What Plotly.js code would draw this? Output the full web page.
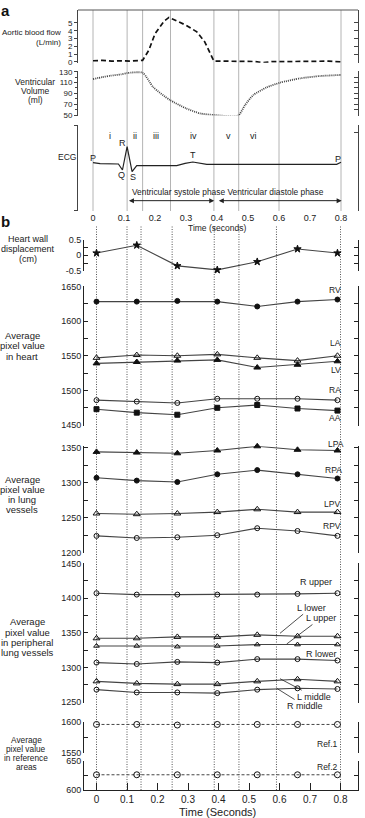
<!DOCTYPE html>
<html><head><meta charset="utf-8">
<script src="https://cdn.plot.ly/plotly-3.0.1.min.js"></script>
<style>html,body{margin:0;padding:0;background:#fff;}#chart{width:365px;height:818px;}</style>
</head><body><div id="chart"></div>
<script>
// ---------- Panel a data ----------
const aorticT = [0, 0.03, 0.06, 0.09, 0.12, 0.16, 0.18, 0.2, 0.23, 0.245, 0.3, 0.335, 0.36, 0.39, 0.42, 0.47, 0.52, 0.55, 0.58, 0.65, 0.72, 0.76, 0.8];
const aorticFlow = [0.15, 0.2, 0.1, 0.15, 0.1, 0.2, 1.5, 3.6, 5.25, 5.7, 4.7, 3.85, 2.6, 0.1, 0.1, 0.05, 0.05, -0.1, 0.05, 0.05, 0.05, 0.1, 0.0];
const volT = [0, 0.03, 0.056, 0.09, 0.11, 0.16, 0.195, 0.248, 0.3, 0.345, 0.39, 0.468, 0.49, 0.517, 0.56, 0.603, 0.668, 0.732, 0.8];
const volume = [116.5, 120, 122.5, 125, 127.5, 128, 101, 77.7, 62.3, 53, 50, 48.8, 68, 86.9, 101, 109.7, 117.7, 122, 124];
const ecgT = [0, 0.023, 0.082, 0.095, 0.11, 0.126, 0.141, 0.27, 0.297, 0.322, 0.367, 0.786, 0.8];
const ecg = [0.9, 0.6, 0.5, -1.3, 5.7, -1.8, 0, 0, 0.7, 1.1, 0.4, 0.4, 1.0];
const phaseA = [0, 0.11, 0.16, 0.25, 0.39, 0.47, 0.6, 0.8];
const phaseNames = ['i', 'ii', 'iii', 'iv', 'v', 'vi'];
const phaseMid = [0.055, 0.136, 0.203, 0.324, 0.437, 0.517];
const timeTicks = [0, 0.1, 0.2, 0.3, 0.4, 0.5, 0.6, 0.7, 0.8];
const timeTickText = ['0', '0.1', '0.2', '0.3', '0.4', '0.5', '0.6', '0.7', '0.8'];

// ---------- Panel b data ----------
const sampleT = [0, 0.132, 0.265, 0.396, 0.527, 0.659, 0.79];
const phaseB = [0, 0.1, 0.146, 0.248, 0.386, 0.467, 0.59, 0.8];
const wallDisp = [0.07, 0.32, -0.34, -0.47, -0.21, 0.2, 0.07];
const RV = [1628, 1628, 1629, 1628, 1621, 1628, 1631];
const LA = [1547, 1551, 1550, 1552, 1547, 1543, 1550];
const LV = [1539, 1541, 1543, 1544, 1533, 1537, 1542];
const RA = [1486, 1484, 1482, 1488, 1488, 1488, 1486];
const AA = [1473, 1468, 1465, 1475, 1479, 1474, 1471];
const LPA = [1344, 1343, 1342, 1346, 1352, 1347, 1346];
const RPA = [1307, 1303, 1301, 1312, 1318, 1312, 1306];
const LPV = [1256, 1255, 1256, 1258, 1262, 1258, 1258];
const RPV = [1224, 1221, 1222, 1225, 1235, 1231, 1224];
const Rupper = [1407, 1405, 1405, 1405, 1405, 1406, 1407];
const Llower = [1342, 1342, 1344, 1344, 1347, 1345, 1345];
const Lupper = [1331, 1331, 1330, 1331, 1333, 1333, 1333];
const Rlower = [1307, 1305, 1308, 1307, 1312, 1312, 1310];
const Lmiddle = [1280, 1277, 1276, 1276, 1280, 1283, 1280];
const Rmiddle = [1268, 1264, 1264, 1263, 1268, 1270, 1269];
const Ref1 = [1596, 1596, 1595, 1596, 1596, 1596, 1596];
const Ref2 = [626, 626, 626, 626, 626, 626, 626];

// ---------- helpers ----------
const W = 365, H = 818;
const fx = p => p / W;
const fy = p => 1 - p / H;
const FN = 'Liberation Sans, Arial, sans-serif';
const TXT = '#222';
const F = s => ({family: FN, size: s, color: TXT});
function lab(s, xp, yp, size, o) {
  return Object.assign({text: s, xref: 'paper', yref: 'paper', x: fx(xp), y: fy(yp), showarrow: false,
    xanchor: 'center', yanchor: 'middle', borderpad: 0, font: F(size)}, o || {});
}
const LC = '#444';
function ser(y, ax, sym, size, extra) {
  return Object.assign({type: 'scatter', mode: 'lines+markers', x: sampleT, y: y, xaxis: 'x2', yaxis: ax,
    line: {color: LC, width: 1.1}, marker: {symbol: sym, size: size || 5, color: '#111', line: {color: '#111', width: 1}},
    cliponaxis: false, showlegend: false, hoverinfo: 'skip'}, extra || {});
}

const traces = [
  {type: 'scatter', mode: 'lines', x: aorticT, y: aorticFlow, xaxis: 'x', yaxis: 'y', line: {color: '#111', width: 1.7, dash: '5px,3px'}, showlegend: false, hoverinfo: 'skip'},
  {type: 'scatter', mode: 'lines', x: volT, y: volume, xaxis: 'x', yaxis: 'y2', line: {color: '#444', width: 1.8, dash: '1px,1px', shape: 'spline', smoothing: 0.6}, showlegend: false, hoverinfo: 'skip'},
  {type: 'scatter', mode: 'lines', x: ecgT, y: ecg, xaxis: 'x', yaxis: 'y3', line: {color: '#222', width: 1.2}, showlegend: false, hoverinfo: 'skip'},
  {type: 'scatter', mode: 'lines', x: [null], y: [null], xaxis: 'x', yaxis: 'y4', showlegend: false, hoverinfo: 'skip'},
  {type: 'scatter', mode: 'lines', x: [null], y: [null], xaxis: 'x', yaxis: 'y5', showlegend: false, hoverinfo: 'skip'},
  {type: 'scatter', mode: 'lines', x: [null], y: [null], xaxis: 'x', yaxis: 'y6', showlegend: false, hoverinfo: 'skip'},
  ser(wallDisp, 'y8', 'star', 5.5),
  ser(RV, 'y9', 'circle', 5),
  ser(LA, 'y9', 'triangle-up-open', 6),
  ser(LV, 'y9', 'triangle-up', 6),
  ser(RA, 'y9', 'circle-open', 5),
  ser(AA, 'y9', 'square', 5),
  ser(LPA, 'y10', 'triangle-up', 6),
  ser(RPA, 'y10', 'circle', 5),
  ser(LPV, 'y10', 'triangle-up-open', 6),
  ser(RPV, 'y10', 'circle-open', 5),
  ser(Rupper, 'y11', 'circle-open', 5),
  ser(Llower, 'y11', 'triangle-up-open', 6),
  ser(Lupper, 'y11', 'triangle-up-open', 5),
  ser(Rlower, 'y11', 'circle-open', 5),
  ser(Lmiddle, 'y11', 'triangle-up-open', 6),
  ser(Rmiddle, 'y11', 'circle-open', 5),
  ser(Ref1, 'y12', 'circle-open', 6, {line: {color: LC, width: 1, dash: '3px,2px'}}),
  ser(Ref2, 'y13', 'circle-open', 6, {line: {color: LC, width: 1, dash: '3px,2px'}})
];

const axA = {showgrid: false, zeroline: false, showline: true, linecolor: '#444', linewidth: 1, tickcolor: '#444', tickfont: F(8), fixedrange: true};
const axB = {anchor: 'x2', showgrid: false, zeroline: false, showline: true, mirror: 'ticks', ticks: 'inside', ticklen: 4,
  linecolor: '#222', tickcolor: '#222', linewidth: 1, tickfont: F(9), tickmode: 'linear', fixedrange: true};
const mnr = (t0, d) => ({tick0: t0, dtick: d, ticks: 'inside', ticklen: 4, tickcolor: '#222'});

const layout = {
  width: W, height: H, margin: {l: 0, r: 0, t: 0, b: 0}, paper_bgcolor: '#fff', plot_bgcolor: 'rgba(0,0,0,0)',
  showlegend: false, font: {family: FN, color: TXT},
  xaxis: {domain: [fx(78), fx(358)], range: [-0.0484, 0.8548], anchor: 'y3', showline: false, ticks: '', showgrid: false, zeroline: false,
    tickmode: 'array', tickvals: timeTicks, ticktext: timeTickText, tickfont: F(9), fixedrange: true},
  yaxis: Object.assign({}, axA, {domain: [fy(62.7), fy(10)], range: [-0.1, 6.65], anchor: 'x', ticks: 'outside', ticklen: 3,
    tickmode: 'array', tickvals: [0, 1, 2, 3, 4, 5]}),
  yaxis2: Object.assign({}, axA, {domain: [fy(115.5), fy(71)], range: [49.1, 131.3], anchor: 'x', ticks: 'outside', ticklen: 3,
    tickmode: 'linear', tick0: 50, dtick: 20, minor: {tick0: 50, dtick: 10, ticks: 'outside', ticklen: 2, tickcolor: '#444'}}),
  yaxis3: Object.assign({}, axA, {domain: [fy(211), fy(125)], range: [-13.6, 12.2], anchor: 'x', ticks: 'outside', ticklen: 3,
    tickmode: 'array', tickvals: [-13.55, 12.15], showticklabels: false}),
  yaxis4: Object.assign({}, axA, {overlaying: 'y', side: 'right', anchor: 'x', range: [-0.1, 6.65], ticks: 'inside', ticklen: 4,
    tickmode: 'array', tickvals: [0, 1, 2, 3, 4, 5], showticklabels: false}),
  yaxis5: Object.assign({}, axA, {overlaying: 'y2', side: 'right', anchor: 'x', range: [49.1, 131.3], ticks: 'inside', ticklen: 4,
    tickmode: 'linear', tick0: 50, dtick: 10, showticklabels: false}),
  yaxis6: Object.assign({}, axA, {overlaying: 'y3', side: 'right', anchor: 'x', range: [-13.6, 12.2], ticks: 'inside', ticklen: 4,
    tickmode: 'array', tickvals: [-13.55, 10.0], showticklabels: false}),
  xaxis2: {domain: [fx(84), fx(357.5)], range: [-0.041, 0.8557], anchor: 'y13', showline: true, linecolor: '#222', ticks: 'inside', ticklen: 7,
    tickcolor: '#222', showgrid: false, zeroline: false, tickmode: 'array', tickvals: timeTicks, ticktext: timeTickText,
    tickfont: F(10), fixedrange: true},
  yaxis8: Object.assign({}, axB, {domain: [fy(271), fy(239.5)], range: [-0.505, 0.505],
    tickmode: 'array', tickvals: [-0.5, 0, 0.5], ticktext: ['-0.5', '0', '0.5'], minor: mnr(-0.5, 0.25)}),
  yaxis9: Object.assign({}, axB, {domain: [fy(425.5), fy(286)], range: [1449.5, 1650.5], tick0: 1450, dtick: 50, minor: mnr(1450, 25)}),
  yaxis10: Object.assign({}, axB, {domain: [fy(552.9), fy(446.3)], range: [1199.7, 1352], tick0: 1200, dtick: 50, minor: mnr(1200, 25)}),
  yaxis11: Object.assign({}, axB, {domain: [fy(702.5), fy(563)], range: [1249.5, 1450.5], tick0: 1250, dtick: 50, minor: mnr(1250, 25)}),
  yaxis12: Object.assign({}, axB, {domain: [fy(752.7), fy(721.7)], range: [1549.5, 1600.5], tick0: 1550, dtick: 50, minor: mnr(1550, 25)}),
  yaxis13: Object.assign({}, axB, {domain: [fy(790), fy(760.7)], range: [599.5, 650.5], tick0: 600, dtick: 50, minor: mnr(600, 25)}),
  shapes: [],
  annotations: []
};

// panel a phase lines + top border
phaseA.forEach(t => layout.shapes.push({type: 'line', xref: 'x', yref: 'paper', x0: t, x1: t, y0: fy(211), y1: fy(10),
  line: {color: '#b4b4b4', width: 1}, layer: 'below'}));
layout.shapes.push({type: 'line', xref: 'paper', yref: 'paper', x0: fx(78), x1: fx(358), y0: fy(10), y1: fy(10), line: {color: '#555', width: 1}});
// panel b dotted phase lines
phaseB.forEach(t => layout.shapes.push({type: 'line', xref: 'x2', yref: 'paper', x0: t, x1: t, y0: fy(790), y1: fy(226),
  line: {color: '#555', width: 1, dash: '1px,1.5px'}, layer: 'below'}));

const A = layout.annotations;
// phase numerals (placed on the panel-a time axis)
phaseNames.forEach((n, i) => A.push({text: n, xref: 'x', yref: 'paper', x: phaseMid[i], y: fy(130), showarrow: false,
  borderpad: 0, font: {family: FN, size: 9, color: '#222'}}));
// panel a labels
A.push(lab('<b>a</b>', 6, 10, 15, {font: {family: FN, size: 15, color: '#111'}}));
A.push(lab('<b>b</b>', 6, 222, 15, {font: {family: FN, size: 15, color: '#111'}}));
A.push(lab('Aortic blood flow', 62, 33, 8, {xanchor: 'right'}));
A.push(lab('(L/min)', 62, 43, 8, {xanchor: 'right'}));
A.push(lab('Ventricular', 35, 81.7, 8.5));
A.push(lab('Volume', 35, 90.7, 8.5));
A.push(lab('(ml)', 35, 100, 8.5));
A.push(lab('ECG', 66.7, 156.7, 8.5));
A.push(lab('P', 92.7, 158.3, 9));
A.push(lab('R', 122.3, 143.3, 9));
A.push(lab('Q', 121, 175, 9));
A.push(lab('S', 132.7, 177.3, 9));
A.push(lab('T', 192.7, 155, 9));
A.push(lab('P', 338.3, 159, 9));
A.push(lab('Ventricular systole phase Ventricular diastole phase', 227.5, 191.7, 8.4));
A.push({text: '', xref: 'x', yref: 'y3', x: 0.391, y: -10.5, axref: 'x', ayref: 'y3', ax: 0.111, ay: -10.5, showarrow: true,
  arrowside: 'end+start', arrowhead: 2, arrowsize: 1, arrowwidth: 1, arrowcolor: '#222'});
A.push({text: '', xref: 'x', yref: 'y3', x: 0.802, y: -10.5, axref: 'x', ayref: 'y3', ax: 0.401, ay: -10.5, showarrow: true,
  arrowside: 'end+start', arrowhead: 2, arrowsize: 1, arrowwidth: 1, arrowcolor: '#222'});
A.push(lab('Time (seconds)', 217, 228, 8.5));
// panel b left labels
[['Heart wall', 238.5], ['displacement', 248.7], ['(cm)', 259]].forEach(d => A.push(lab(d[0], 28, d[1], 9)));
[['Average', 335], ['pixel value', 345.5], ['in heart', 356]].forEach(d => A.push(lab(d[0], 22, d[1], 9.5)));
[['Average', 479], ['pixel value', 489], ['in lung', 499], ['vessels', 509]].forEach(d => A.push(lab(d[0], 22, d[1], 9.5)));
[['Average', 621.7], ['pixel value', 632.3], ['in peripheral', 642.7], ['lung vessels', 652.7]].forEach(d => A.push(lab(d[0], 27, d[1], 9.5)));
[['Average', 739.5], ['pixel value', 748.5], ['in reference', 757.5], ['areas', 766.5]].forEach(d => A.push(lab(d[0], 26, d[1], 8.3)));
// series labels
const sl = (s, x, y) => A.push(lab(s, x, y, 8.5, {xanchor: 'right'}));
sl('RV', 342, 290); sl('LA', 342, 343.3); sl('LV', 342, 370); sl('RA', 342, 390); sl('AA', 342, 418.3);
sl('LPA', 345, 444); sl('RPA', 343.3, 470); sl('LPV', 341, 504.3); sl('RPV', 342, 525.7);
sl('Ref.1', 338.5, 744.3); sl('Ref.2', 338.5, 767.3);
A.push(lab('R upper', 316, 581.7, 9));
A.push(lab('R lower', 321, 654, 9));
const lead = (s, px, py, ax, ay) => A.push({text: s, xref: 'paper', yref: 'paper', x: fx(px), y: fy(py), ax: ax, ay: ay,
  showarrow: true, arrowhead: 0, arrowwidth: 0.8, arrowcolor: '#222', font: F(9)});
lead('L lower', 280, 633.3, 31, -25.6);
lead('L upper', 286.7, 644, 34.3, -26);
lead('L middle', 280, 678.7, 34, 18);
lead('R middle', 276.7, 688.3, 28.3, 17.7);
A.push(lab('Time (Seconds)', 217, 812, 11));

Plotly.newPlot('chart', traces, layout, {staticPlot: true, displayModeBar: false});
</script></body></html>
